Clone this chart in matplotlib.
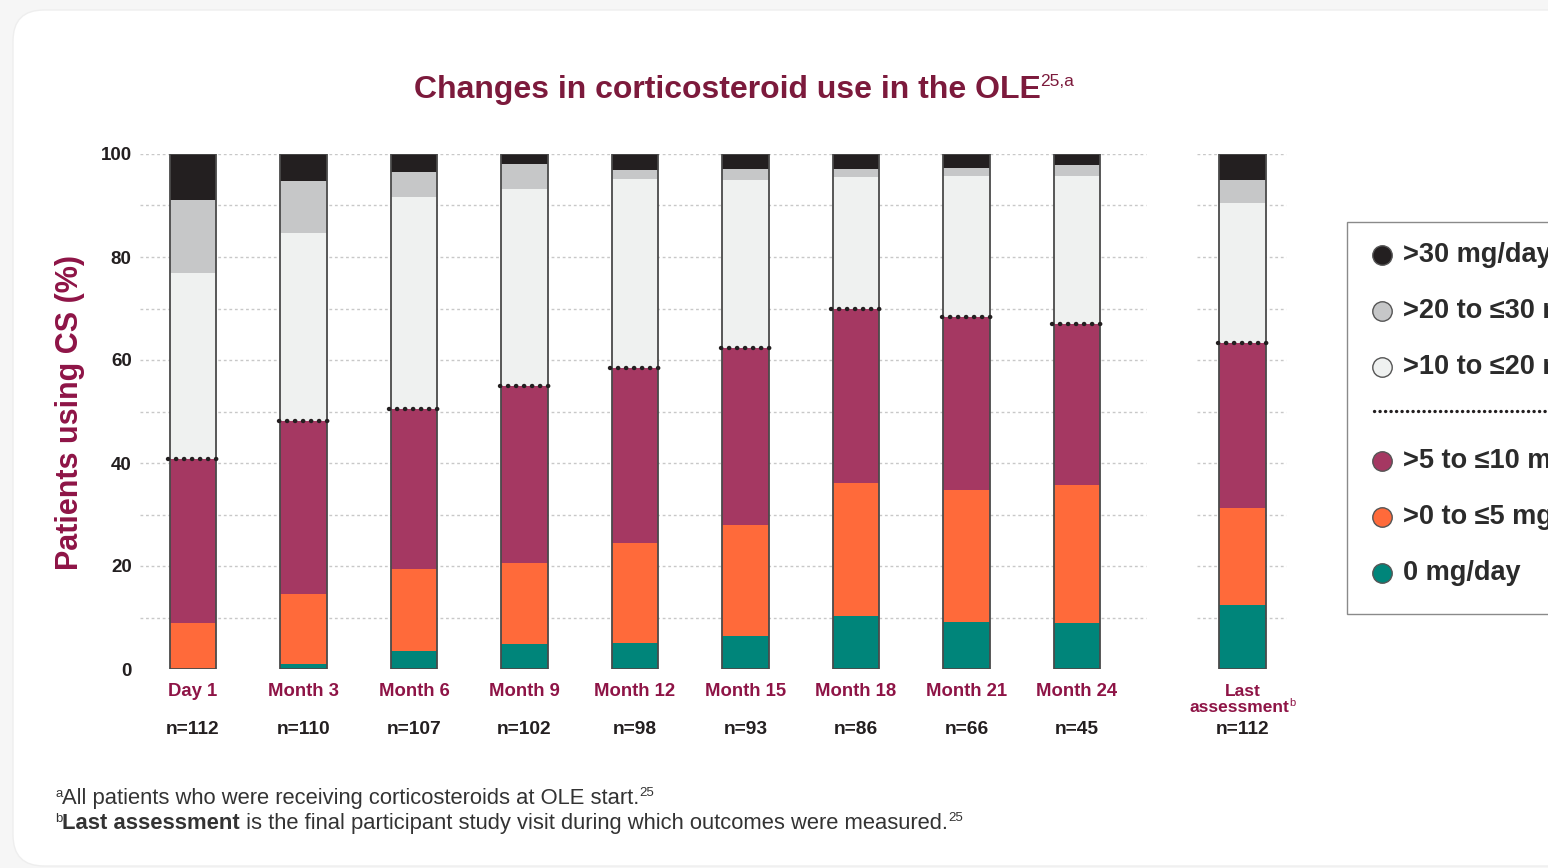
import matplotlib
matplotlib.use("Agg")
import matplotlib.pyplot as plt
from matplotlib.patches import FancyBboxPatch, Rectangle
from matplotlib.lines import Line2D
import matplotlib.transforms as mtransforms

# ---------------- data ----------------
categories = ["Day 1", "Month 3", "Month 6", "Month 9", "Month 12",
              "Month 15", "Month 18", "Month 21", "Month 24", "Last assessment"]
n_values = [112, 110, 107, 102, 98, 93, 86, 66, 45, 112]

dose_zero = [0.0, 0.9, 3.5, 4.9, 5.0, 6.4, 10.3, 9.1, 8.9, 12.4]
dose_0_5 = [8.9, 13.7, 15.9, 15.7, 19.5, 21.6, 25.8, 25.7, 26.8, 18.9]
dose_5_10 = [31.9, 33.6, 31.1, 34.4, 33.9, 34.3, 33.8, 33.5, 31.2, 32.0]
dose_10_20 = [36.1, 36.5, 41.2, 38.2, 36.7, 32.7, 25.7, 27.5, 28.9, 27.1]
dose_20_30 = [14.2, 10.1, 4.8, 4.9, 1.8, 2.0, 1.4, 1.5, 2.1, 4.6]
dose_30 = [8.9, 5.2, 3.5, 1.9, 3.1, 3.0, 3.0, 2.7, 2.1, 5.0]

legend_labels = [">30 mg/day", ">20 to \u226430 mg/day", ">10 to \u226420 mg/day",
                 ">5 to \u226410 mg/day", ">0 to \u22645 mg/day", "0 mg/day"]

# ---------------- style ----------------
W, H = 1548, 868
C_BLACK = "#231f20"
C_GRAY = "#c6c7c8"
C_LIGHT = "#eff1f0"
C_MAG = "#a53862"
C_ORANGE = "#ff6a3a"
C_TEAL = "#00857a"
MAROON = "#7c1a3c"
LABEL_MAROON = "#8e1446"
TXT = "#231f20"

NARROW = ["Liberation Sans Narrow", "Liberation Sans", "DejaVu Sans"]
SANS = ["Liberation Sans", "DejaVu Sans"]

fig = plt.figure(figsize=(W / 100, H / 100), dpi=100)
fig.patch.set_facecolor("#f6f6f6")

def fx(px):
    return px / W

def fy(py):
    return 1 - py / H

# card
card = FancyBboxPatch((fx(13), fy(866)), fx(1600) - fx(13), fy(10) - fy(866),
                      boxstyle="round,pad=0,rounding_size=0.02",
                      transform=fig.transFigure, facecolor="white",
                      edgecolor="#eeeeee", linewidth=1.0, zorder=0,
                      mutation_aspect=W / H)
fig.add_artist(card)

# ---------------- axes ----------------
unit = 110.5  # pixels per category step
ax_left_px, ax_right_px = 140, 1290
ax = fig.add_axes([fx(ax_left_px), fy(669), (ax_right_px - ax_left_px) / W, (669 - 154) / H])
ax.set_facecolor("none")
x0 = -(193 - ax_left_px) / unit
ax.set_xlim(x0, x0 + (ax_right_px - ax_left_px) / unit)
ax.set_ylim(0, 100)
for s in ax.spines.values():
    s.set_visible(False)
ax.set_xticks([])
ax.set_yticks([0, 20, 40, 60, 80, 100])
ax.set_yticklabels(["0", "20", "40", "60", "80", "100"])
ax.tick_params(axis="y", length=0, pad=6)
for lab in ax.get_yticklabels():
    lab.set_fontfamily(SANS)
    lab.set_fontweight("bold")
    lab.set_fontsize(13.5)
    lab.set_color(TXT)

positions = list(range(9)) + [9.5]
bw = 0.425

# gridlines (two segments with a gap before "Last assessment")
gap_a = 8 + (1143 - 1074) / unit
gap_b = 9.5 - (1241 - 1195) / unit
for gy in range(10, 101, 10):
    ax.plot([x0, gap_a], [gy, gy], color="#c8c8c8", lw=1.0, ls=(0, (2, 2)), zorder=1)
    ax.plot([gap_b, x0 + (ax_right_px - ax_left_px) / unit - 0.04], [gy, gy],
            color="#c8c8c8", lw=1.0, ls=(0, (2, 2)), zorder=1)

series = [dose_zero, dose_0_5, dose_5_10, dose_10_20, dose_20_30, dose_30]
colors = [C_TEAL, C_ORANGE, C_MAG, C_LIGHT, C_GRAY, C_BLACK]
bottoms = [0.0] * len(positions)
mag_tops = []
for vals, col in zip(series, colors):
    ax.bar(positions, vals, bottom=bottoms, width=bw, color=col, edgecolor="none",
           linewidth=0, zorder=2)
    bottoms = [b + v for b, v in zip(bottoms, vals)]
    if col == C_MAG:
        mag_tops = list(bottoms)

# outlines
ax.bar(positions, bottoms, width=bw, fill=False, edgecolor="#4a4a4a", linewidth=1.3, zorder=3)

# dotted threshold line at the top of the >5 to <=10 segment
for p, t in zip(positions, mag_tops):
    ax.plot([p - bw / 2 - 0.01, p + bw / 2 + 0.01], [t, t], color=C_BLACK, lw=3.2,
            ls=(0, (0.05, 1.75)), dash_capstyle="round", zorder=4)

# ---------------- category labels ----------------
trans = mtransforms.blended_transform_factory(ax.transData, fig.transFigure)
renderer = fig.canvas.get_renderer()
for p, cat, n in zip(positions, categories, n_values):
    if cat == "Last assessment":
        ax.text(p, fy(692), "Last", transform=trans, ha="center", va="center",
                fontfamily=NARROW, fontweight="bold", fontsize=12.5, color=LABEL_MAROON)
        t = ax.text(p - 0.03, fy(707), "assessment", transform=trans, ha="center", va="center",
                    fontfamily=NARROW, fontweight="bold", fontsize=12.5, color=LABEL_MAROON)
        bb = t.get_window_extent(renderer)
        fig.text(bb.x1 / W, fy(703), "b", ha="left", va="center",
                 fontfamily=SANS, fontsize=8, color=LABEL_MAROON)
    else:
        ax.text(p, fy(691), cat, transform=trans, ha="center", va="center",
                fontfamily=NARROW, fontweight="bold", fontsize=13.3, color=LABEL_MAROON)
    ax.text(p, fy(729), f"n={n}", transform=trans, ha="center", va="center",
            fontfamily=NARROW, fontweight="bold", fontsize=13.8, color=TXT)

# y-axis label
fig.text(fx(70), fy(413), "Patients using CS (%)", rotation=90, ha="center", va="center",
         fontfamily=SANS, fontweight="bold", fontsize=22, color=LABEL_MAROON)

# ---------------- rich text helper ----------------
def rich(pieces, x_px, base_px, center=False):
    """pieces: (text, kwargs, raise_px)."""
    arts = []
    for s, kw, dy in pieces:
        t = fig.text(0, fy(base_px + dy), s, ha="left", va="baseline", **kw)
        arts.append(t)
    widths = [a.get_window_extent(renderer).width for a in arts]
    total = sum(widths)
    start = x_px - total / 2 if center else x_px
    cur = start
    for a, w in zip(arts, widths):
        a.set_x(cur / W)
        cur += w
    return arts

# title
rich([("Changes in corticosteroid use in the OLE",
       dict(fontfamily=NARROW, fontweight="bold", fontsize=23, color=MAROON), 0),
      ("25,a", dict(fontfamily=NARROW, fontsize=12.5, color=MAROON), -12)],
     744, 98, center=True)

# footnotes
FOOT = "#333333"
rich([("a", dict(fontfamily=SANS, fontsize=9.5, color=FOOT), -7),
      ("All patients who were receiving corticosteroids at OLE start.",
       dict(fontfamily=SANS, fontsize=15.8, color=FOOT), 0),
      ("25", dict(fontfamily=SANS, fontsize=9.5, color=FOOT), -8)],
     55, 804)
rich([("b", dict(fontfamily=SANS, fontsize=9.5, color=FOOT), -7),
      ("Last assessment", dict(fontfamily=SANS, fontsize=15.8, fontweight="bold", color=FOOT), 0),
      (" is the final participant study visit during which outcomes were measured.",
       dict(fontfamily=SANS, fontsize=15.8, color=FOOT), 0),
      ("25", dict(fontfamily=SANS, fontsize=9.5, color=FOOT), -8)],
     55, 829)

# ---------------- legend ----------------
leg_box = Rectangle((fx(1347), fy(614)), fx(1600) - fx(1347), fy(222) - fy(614),
                    transform=fig.transFigure, facecolor="white", edgecolor="#8a8a8a",
                    linewidth=1.0, zorder=1)
fig.add_artist(leg_box)
leg_y = [255, 311, 367, 461, 517, 573]
leg_colors = [C_BLACK, C_GRAY, C_LIGHT, C_MAG, C_ORANGE, C_TEAL]
for yy, col, lab in zip(leg_y, leg_colors, legend_labels):
    fig.add_artist(Line2D([fx(1382)], [fy(yy)], marker="o", markersize=14,
                          markerfacecolor=col, markeredgecolor="#555555",
                          markeredgewidth=1.0, transform=fig.transFigure, zorder=3))
    fig.text(fx(1403), fy(yy), lab, ha="left", va="center", fontfamily=SANS,
             fontweight="bold", fontsize=19.5, color="#2b2b2b", zorder=3)
fig.add_artist(Line2D([fx(1374), fx(1560)], [fy(411), fy(411)], color=C_BLACK, lw=2.4,
                      ls=(0, (0.05, 1.6)), dash_capstyle="round",
                      transform=fig.transFigure, zorder=3))

fig.savefig("out.png", dpi=100, facecolor=fig.get_facecolor())
